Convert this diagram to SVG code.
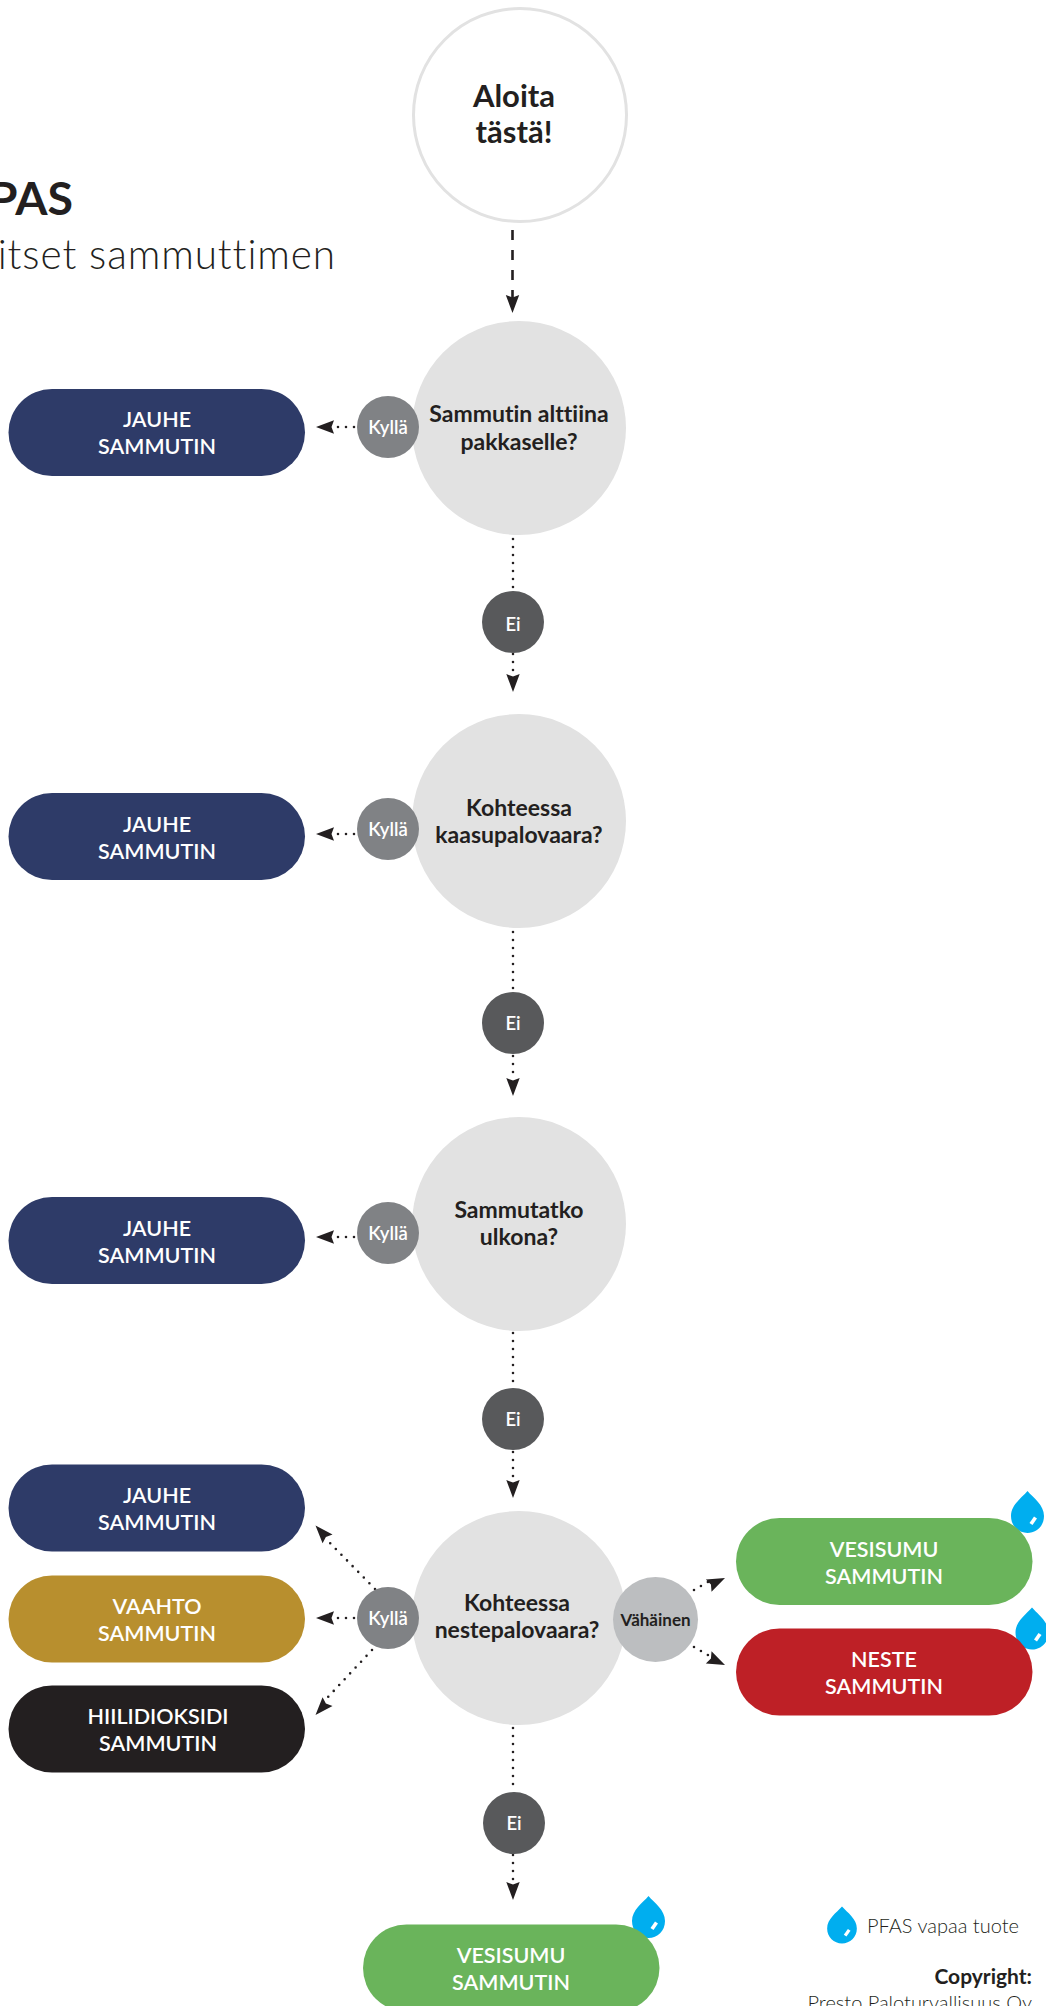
<svg xmlns="http://www.w3.org/2000/svg" width="1046" height="2006" viewBox="0 0 1046 2006">
<style>
text{font-family:"Lato","Liberation Sans",sans-serif;text-anchor:middle;font-variant-ligatures:none}
.q{fill:#e2e2e2}
.qt{font-size:23px;font-weight:700;fill:#231f20}
.pt{font-size:21.5px;font-weight:600;fill:#fff}
.yes{fill:#808285}.no{fill:#58595b}
.lt{font-size:18.5px;font-weight:600;fill:#fff}
.pill{stroke:none}
.dot{fill:none;stroke:#231f20;stroke-width:2.6;stroke-linecap:round;stroke-dasharray:0 8}
.head{fill:#231f20}
.drop{fill:#00aeef}
.glint{fill:none;stroke:#fff;stroke-width:3.6}
</style>
<defs>
<g id="arrow"><path class="head" d="M0 0L-6.700-18L0-15.500L6.700-18Z"/></g>
<g id="dropg">
<path class="drop" d="M0 0C6 7 16.500 14 16.500 25C16.500 35 9 42 0 42C-9 42-16.500 35-16.500 25C-16.500 14-6 7 0 0Z"/>
<path class="glint" d="M3.500 33L8 26.500"/>
</g>
</defs>
<g id="title">
<text x="73" y="215" style="text-anchor:end;font-size:46.500px;font-weight:700;fill:#231f20">PAS</text>
<text x="336" y="268.500" style="text-anchor:end;font-size:40.500px;font-weight:300;letter-spacing:.9px;fill:#231f20">itset sammuttimen</text>
</g>
<g id="connectors">
<path d="M512.500 230V300" fill="none" stroke="#231f20" stroke-width="2.600" stroke-dasharray="10 10"/>
<use href="#arrow" transform="translate(512.500 313)"/>
<path class="dot" d="M513 539V590"/><path class="dot" d="M513 654V672"/><use href="#arrow" transform="translate(513 692)"/>
<path class="dot" d="M513 932V990"/><path class="dot" d="M513 1056V1075"/><use href="#arrow" transform="translate(513 1096)"/>
<path class="dot" d="M513 1333V1387"/><path class="dot" d="M513 1452V1477"/><use href="#arrow" transform="translate(513 1498)"/>
<path class="dot" d="M513 1728V1791"/><path class="dot" d="M513 1855V1880"/><use href="#arrow" transform="translate(513 1900)"/>
<path class="dot" d="M354 427H335"/><use href="#arrow" transform="translate(316 427) rotate(90)"/>
<path class="dot" d="M354 834H335"/><use href="#arrow" transform="translate(316 834) rotate(90)"/>
<path class="dot" d="M354 1237H335"/><use href="#arrow" transform="translate(316 1237) rotate(90)"/>
<path class="dot" d="M354 1618H335"/><use href="#arrow" transform="translate(316 1618) rotate(90)"/>
<path class="dot" d="M375 1589L328 1541"/><use href="#arrow" transform="translate(315.500 1525.500) rotate(138)"/>
<path class="dot" d="M372 1650L328 1697"/><use href="#arrow" transform="translate(315.500 1715) rotate(42)"/>
<path class="dot" d="M694 1590L708 1582"/><use href="#arrow" transform="translate(725 1578) rotate(-115)"/>
<path class="dot" d="M694 1647L708 1655"/><use href="#arrow" transform="translate(725 1665) rotate(-65)"/>
</g>
<g id="start"><circle cx="520" cy="115" r="106.500" fill="#fff" stroke="#e2e2e2" stroke-width="3"/>
<text style="font-size:31px;font-weight:700;fill:#231f20" x="514" y="107">Aloita</text><text style="font-size:31px;font-weight:700;fill:#231f20" x="514" y="143">täst&#228;!</text></g>
<g id="q1"><circle class="q" cx="519" cy="428" r="107"/><text class="qt" x="519" y="422">Sammutin alttiina</text><text class="qt" x="519" y="450">pakkaselle?</text></g>
<g id="q2"><circle class="q" cx="519" cy="821" r="107"/><text class="qt" x="519" y="816">Kohteessa</text><text class="qt" x="519" y="843">kaasupalovaara?</text></g>
<g id="q3"><circle class="q" cx="519" cy="1224" r="107"/><text class="qt" x="519" y="1218">Sammutatko</text><text class="qt" x="519" y="1245">ulkona?</text></g>
<g id="q4"><circle class="q" cx="519" cy="1618" r="107"/><text class="qt" x="517" y="1611">Kohteessa</text><text class="qt" x="517" y="1638">nestepalovaara?</text></g>
<g id="y1"><circle class="yes" cx="388" cy="427" r="31"/><text class="lt" x="388" y="434">Kyllä</text></g>
<g id="y2"><circle class="yes" cx="388" cy="829" r="31"/><text class="lt" x="388" y="836">Kyllä</text></g>
<g id="y3"><circle class="yes" cx="388" cy="1233" r="31"/><text class="lt" x="388" y="1240">Kyllä</text></g>
<g id="y4"><circle class="yes" cx="388" cy="1618" r="31"/><text class="lt" x="388" y="1625">Kyllä</text></g>
<g id="n1"><circle class="no" cx="513" cy="622" r="31"/><text class="lt" x="513" y="631">Ei</text></g>
<g id="n2"><circle class="no" cx="513" cy="1023" r="31"/><text class="lt" x="513" y="1030">Ei</text></g>
<g id="n3"><circle class="no" cx="513" cy="1419" r="31"/><text class="lt" x="513" y="1426">Ei</text></g>
<g id="n4"><circle class="no" cx="514" cy="1823" r="31"/><text class="lt" x="514" y="1830">Ei</text></g>
<g id="minor"><circle cx="655.500" cy="1619.500" r="42.500" fill="#bcbec0"/><text x="655.500" y="1626" style="font-size:17px;font-weight:700;fill:#231f20">Vähäinen</text></g>
<g id="p1"><rect class="pill" x="8.500" y="389" width="296.500" height="87" rx="43.500" fill="#2e3b68"/><text class="pt" x="157" y="427">JAUHE</text><text class="pt" x="157" y="454">SAMMUTIN</text></g>
<g id="p2"><rect class="pill" x="8.500" y="793" width="296.500" height="87" rx="43.500" fill="#2e3b68"/><text class="pt" x="157" y="832">JAUHE</text><text class="pt" x="157" y="859">SAMMUTIN</text></g>
<g id="p3"><rect class="pill" x="8.500" y="1197" width="296.500" height="87" rx="43.500" fill="#2e3b68"/><text class="pt" x="157" y="1236">JAUHE</text><text class="pt" x="157" y="1263">SAMMUTIN</text></g>
<g id="p4"><rect class="pill" x="8.500" y="1464.500" width="296.500" height="87" rx="43.500" fill="#2e3b68"/><text class="pt" x="157" y="1503">JAUHE</text><text class="pt" x="157" y="1530">SAMMUTIN</text></g>
<g id="p5"><rect class="pill" x="8.500" y="1575.500" width="296.500" height="87" rx="43.500" fill="#b88f2e"/><text class="pt" x="157" y="1614">VAAHTO</text><text class="pt" x="157" y="1641">SAMMUTIN</text></g>
<g id="p6"><rect class="pill" x="8.500" y="1685.500" width="296.500" height="87" rx="43.500" fill="#231f20"/><text class="pt" x="158" y="1724">HIILIDIOKSIDI</text><text class="pt" x="158" y="1751">SAMMUTIN</text></g>
<g id="d1"><use href="#dropg" transform="translate(1027.500 1491)"/></g>
<g id="p7"><rect class="pill" x="736" y="1518" width="296.500" height="87" rx="43.500" fill="#6ab45b"/><text class="pt" x="884" y="1557">VESISUMU</text><text class="pt" x="884" y="1584">SAMMUTIN</text></g>
<g id="d2"><use href="#dropg" transform="translate(1032 1607.500)"/></g>
<g id="p8"><rect class="pill" x="736" y="1628.500" width="296.500" height="87" rx="43.500" fill="#be2026"/><text class="pt" x="884" y="1667">NESTE</text><text class="pt" x="884" y="1694">SAMMUTIN</text></g>
<g id="d3"><use href="#dropg" transform="translate(648.500 1896)"/></g>
<g id="p9"><rect class="pill" x="363" y="1924.500" width="296.500" height="87" rx="43.500" fill="#6ab45b"/><text class="pt" x="511" y="1963">VESISUMU</text><text class="pt" x="511" y="1990">SAMMUTIN</text></g>
<g id="legend"><use href="#dropg" transform="translate(842 1906.500) scale(.9 .88)"/>
<text x="867" y="1933" style="text-anchor:start;font-size:20px;font-weight:300;fill:#231f20">PFAS vapaa tuote</text>
<text x="1032" y="1984" style="text-anchor:end;font-size:21px;font-weight:700;fill:#231f20">Copyright:</text>
<text x="1032" y="2010" style="text-anchor:end;font-size:20px;font-weight:300;fill:#231f20">Presto Paloturvallisuus Oy</text></g>
</svg>
